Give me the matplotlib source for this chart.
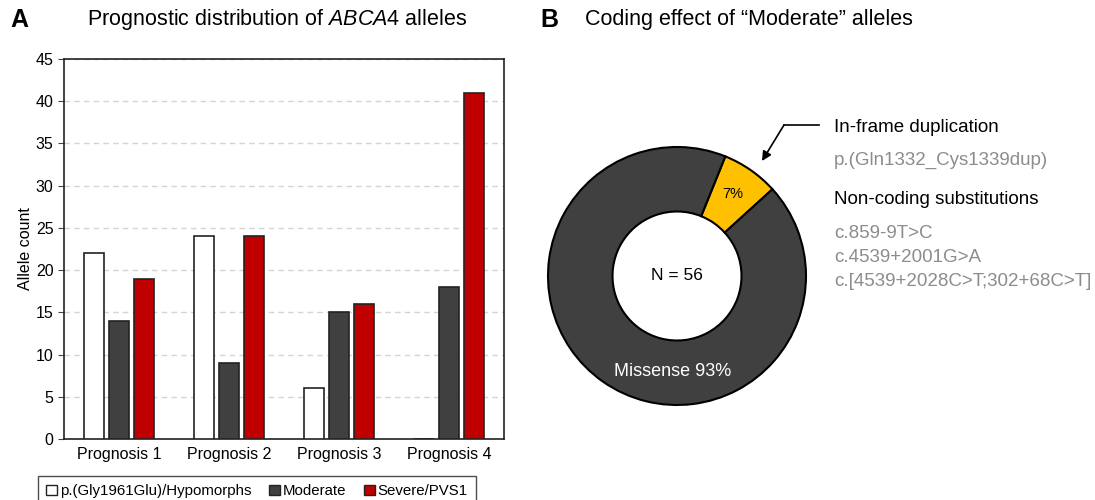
import numpy as np
import matplotlib
matplotlib.use("Agg")
import matplotlib.pyplot as plt
from matplotlib.patches import Patch

plt.rcParams["font.family"] = ["Liberation Sans", "DejaVu Sans"]
plt.rcParams["mathtext.fontset"] = "custom"
plt.rcParams["mathtext.it"] = "Liberation Sans:italic"
plt.rcParams["mathtext.rm"] = "Liberation Sans"

# --- data ---
categories = ["Prognosis 1", "Prognosis 2", "Prognosis 3", "Prognosis 4"]
series_names = ["p.(Gly1961Glu)/Hypomorphs", "Moderate", "Severe/PVS1"]
hypomorph = [22, 24, 6, 0]
moderate = [14, 9, 15, 18]
severe = [19, 24, 16, 41]
series_colors = ["#ffffff", "#404040", "#c00000"]

pie_labels = ["7%", "Missense 93%"]
pie_counts = [4, 52]
pie_colors = ["#ffc000", "#404040"]
n_total = 56

W, H = 1095, 500


def fx(px):
    return px / W


def fy(py):
    return 1 - py / H


fig = plt.figure(figsize=(W / 100, H / 100), dpi=100)

# ------------------------------------------------------------------ panel A
ax = fig.add_axes([fx(64), fy(439), fx(504) - fx(64), fy(59) - fy(439)])
x = np.arange(len(categories))
width = 0.18
offsets = [-0.225, 0.0, 0.225]
for vals, off, col, name in zip([hypomorph, moderate, severe], offsets,
                                series_colors, series_names):
    ax.bar(x + off, vals, width, color=col, edgecolor="#222222",
           linewidth=1.2, label=name, zorder=3)

ax.set_xlim(-0.5, 3.5)
ax.set_ylim(0, 45)
ax.set_yticks(range(0, 46, 5))
ax.set_xticks(x)
ax.set_xticklabels(categories, fontsize=11.5)
ax.tick_params(axis="x", length=0, pad=6)
ax.tick_params(axis="y", labelsize=11.5, length=4, color="#444444")
ax.set_ylabel("Allele count", fontsize=11.5, labelpad=2)
ax.yaxis.grid(True, linestyle=(0, (4, 3)), color="#d4d4d4", linewidth=1)
ax.set_axisbelow(True)
for sp in ax.spines.values():
    sp.set_color("#222222")
    sp.set_linewidth(1.2)

handles = [Patch(facecolor=c, edgecolor="#222222", linewidth=1.0)
           for c in series_colors]
fig.legend(handles, series_names, loc="upper center",
           bbox_to_anchor=(fx(257), fy(476)), ncol=3, fontsize=10.8,
           frameon=True, fancybox=False, edgecolor="#222222",
           handlelength=0.7, handleheight=0.7, handletextpad=0.2,
           columnspacing=1.2, borderpad=0.55, borderaxespad=0)

fig.text(fx(10), fy(20), "A", fontsize=18, fontweight="bold", va="center")
fig.text(fx(277), fy(20), "Prognostic distribution of $\\mathit{ABCA4}$ alleles",
         fontsize=15.5, ha="center", va="center")

# ------------------------------------------------------------------ panel B
cx, cy, r = 677, 276, 129
pad = 1.06
axp = fig.add_axes([fx(cx - r * pad), fy(cy + r * pad),
                    2 * r * pad / W, 2 * r * pad / H])
axp.pie(pie_counts, colors=pie_colors, startangle=68, counterclock=False,
        radius=1.0, wedgeprops=dict(width=0.5, edgecolor="black",
                                    linewidth=1.5))
axp.set_xlim(-pad, pad)
axp.set_ylim(-pad, pad)
axp.set_aspect("equal")
axp.axis("off")

fig.text(fx(cx), fy(cy), f"N = {n_total}", fontsize=12.5,
         ha="center", va="center")
fig.text(fx(733), fy(194), pie_labels[0], fontsize=10.5,
         ha="center", va="center")
fig.text(fx(673), fy(372), pie_labels[1], fontsize=13, color="white",
         ha="center", va="center")

fig.text(fx(540), fy(20), "B", fontsize=18, fontweight="bold", va="center")
fig.text(fx(585), fy(20), "Coding effect of \u201cModerate\u201d alleles",
         fontsize=15.5, ha="left", va="center")

# arrow to the duplication wedge
fig.add_artist(plt.Line2D([fx(819), fx(784)], [fy(125), fy(125)],
                          color="black", linewidth=1.2))
axp.annotate("", xy=(fx(762), fy(161)), xycoords="figure fraction",
             xytext=(fx(784), fy(125)), textcoords="figure fraction",
             arrowprops=dict(arrowstyle="-|>", color="black", lw=1.2,
                             mutation_scale=14, shrinkA=0, shrinkB=0))

gray = "#8c8c8c"
tx = 834
fig.text(fx(tx), fy(127), "In-frame duplication", fontsize=13.5, va="center")
fig.text(fx(tx), fy(160), "p.(Gln1332_Cys1339dup)", fontsize=13.5,
         color=gray, va="center")
fig.text(fx(tx), fy(199), "Non-coding substitutions", fontsize=13.5,
         va="center")
for yy, s in zip([233, 257, 281],
                 ["c.859-9T>C", "c.4539+2001G>A",
                  "c.[4539+2028C>T;302+68C>T]"]):
    fig.text(fx(tx), fy(yy), s, fontsize=13.5, color=gray, va="center")

fig.savefig("out.png", dpi=100)
